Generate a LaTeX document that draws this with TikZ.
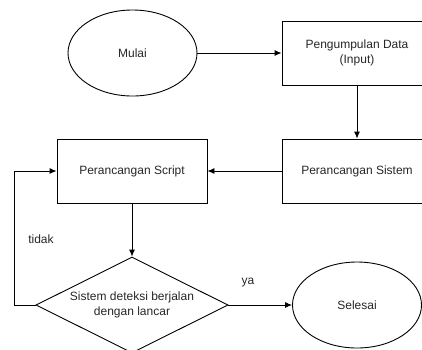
\documentclass[tikz,border=0pt]{standalone}
\usepackage{fontspec}
\setmainfont{Liberation Sans}
\usetikzlibrary{shapes.geometric,arrows.meta}
\begin{document}
\begin{tikzpicture}[x=1pt,y=-1pt]
    \useasboundingbox (0,0) rectangle (422,349);
    \clip (0,0) rectangle (422,349);
    \tikzstyle{every node}=[draw=black, line width=0.9pt, inner sep=0pt, font=\fontsize{12}{15}\selectfont, text=black!85, align=center]
    \tikzstyle{kotak}=[rectangle, minimum width=150, minimum height=64]
    \tikzstyle{bulat}=[ellipse, minimum width=129, minimum height=86]
    \tikzstyle{panah}=[black, line width=0.9pt, -{Latex[length=7pt,width=6pt]}]

    \node[bulat] (mulai) at (132.5,53) {Mulai};
    \node[kotak] (input) at (357,53) {Pengumpulan Data\\(Input)};
    \node[kotak] (sistem) at (357,171) {Perancangan Sistem};
    \node[kotak] (script) at (132,171) {Perancangan Script};
    \node[diamond, aspect=2, minimum width=192, minimum height=96] (cek) at (132,305) {Sistem deteksi berjalan\\dengan lancar};
    \node[bulat] (selesai) at (357,305) {Selesai};
    \coordinate (belok) at (14,305);

    \draw[panah] (mulai) -- (input);
    \draw[panah] (input) -- (sistem);
    \draw[panah] (sistem) -- (script);
    \draw[panah] (script) -- (cek);
    \draw[panah] (cek) -- (selesai);
    \draw[panah] (cek.west) -- (belok) |- (script.west);

    \tikzstyle{every node}=[draw=none, inner sep=0pt, font=\fontsize{12}{15}\selectfont, text=black!85]
    \node (tidak) at (41,239) {tidak};
    \node (ya) at (248,283) {ya};
\end{tikzpicture}
\end{document}
